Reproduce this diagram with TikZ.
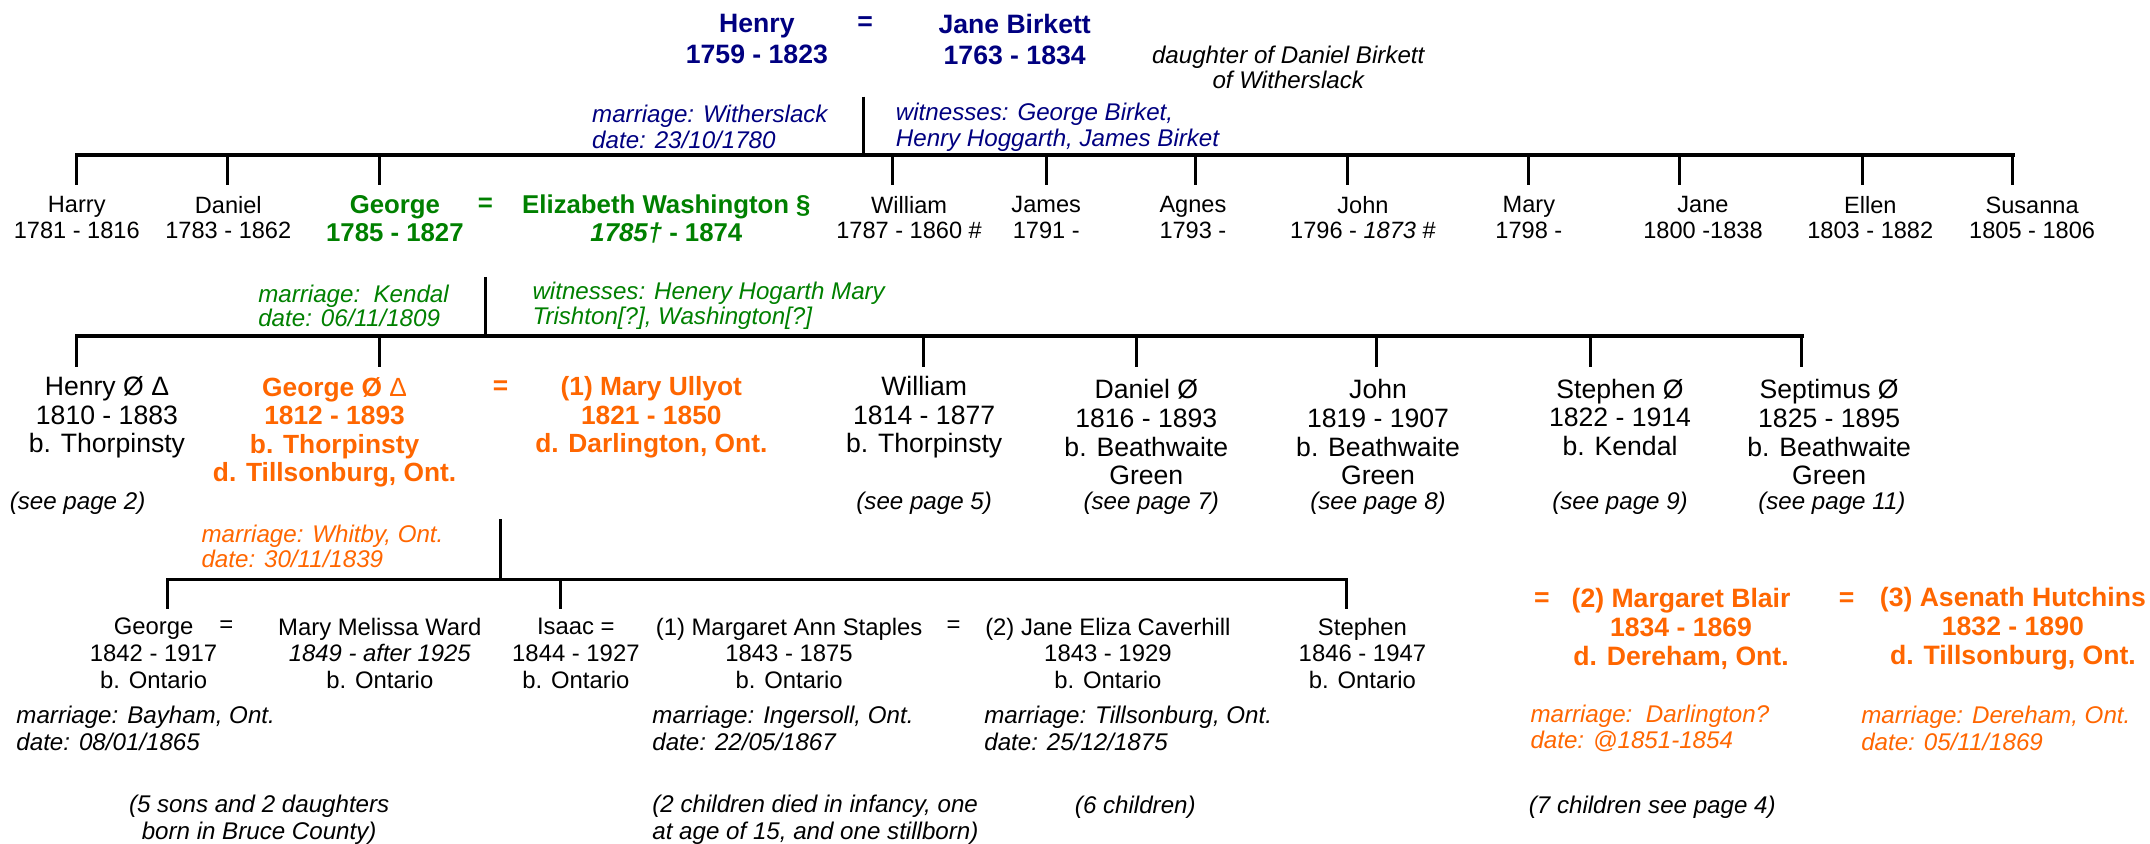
\documentclass[tikz,border=0pt]{standalone}
\usepackage{fontspec}
\setmainfont{Liberation Sans}
\usepackage{tikz}
\usetikzlibrary{calc, positioning}
\definecolor{navy}{RGB}{0,0,128}
\definecolor{leafgreen}{RGB}{0,128,0}
\definecolor{ontorange}{RGB}{255,102,0}

\begin{document}
\begin{tikzpicture}[x=0.5pt, y=-0.5pt,
    every node/.style={inner sep=0pt, align=center},
    bar/.style={line width=1.3pt, line cap=rect},
    stem/.style={line width=1.1pt},
    elders/.style={font=\bfseries\fontsize{9.7}{11.25}\selectfont, text=navy},
    gen1/.style={font=\fontsize{8.6}{9.25}\selectfont},
    heir1/.style={font=\bfseries\fontsize{9.4}{10.25}\selectfont, text=leafgreen},
    gen2/.style={font=\fontsize{9.7}{10.4}\selectfont},
    heir2/.style={font=\bfseries\fontsize{9.6}{10.4}\selectfont, text=ontorange},
    wife2/.style={font=\bfseries\fontsize{9.7}{10.5}\selectfont, text=ontorange},
    gen3/.style={font=\fontsize{8.7}{9.75}\selectfont},
    memo/.style={font=\itshape\fontsize{8.8}{#1}\selectfont, align=left, anchor=west},
    memo/.default=9.75,
    seepage/.style={font=\itshape\fontsize{8.8}{9.75}\selectfont}]
\useasboundingbox (0,0) rectangle (1568,615.5);

% Henry and Jane
\node[elders] (henry0) at (552,28.75) {Henry\\1759 - 1823};
\node[elders] (wed0) at (631,17.5) {=};
\node[elders] (jane0) at (740,28.75) {Jane Birkett\\1763 - 1834};
\node[font=\itshape\fontsize{8.8}{9}\selectfont] (janedad) at (939.5,49) {daughter of Daniel Birkett\\of Witherslack};
\node[memo=9.5, text=navy] (marr0) at (431.5,92.5) {marriage: Witherslack\\date: 23/10/1780};
\node[memo=9.5, text=navy] (witn0) at (653,92.5) {witnesses: George Birket,\\Henry Hoggarth, James Birket};

\coordinate (knot0) at (630,70.5);
\coordinate (bar1w) at (56,113);
\coordinate (bar1e) at (1468,113);
\draw[stem] (knot0) -- (knot0 |- bar1w);
\draw[bar] (bar1w) -- (bar1e);
\foreach \x [count=\i] in {56,166,276.5,651,763,872,983,1115,1225,1358,1468} {
    \coordinate (kid1-\i) at (\x,135);
    \draw[stem] (kid1-\i |- bar1w) -- (kid1-\i);
}

\node[gen1] (harry) at (56,158.75) {Harry\\1781 - 1816};
\node[gen1] (daniel) at (166.5,158.75) {Daniel\\1783 - 1862};
\node[heir1] (george) at (288,159.75) {George\\1785 - 1827};
\node[heir1] (wed1) at (354,149.5) {=};
\node[heir1] (eliza) at (486,159.75) {Elizabeth Washington §\\\textit{1785†} - 1874};
\node[gen1] (william) at (663,158.75) {William\\1787 - 1860 \#};
\node[gen1] (james) at (763,158.75) {James\\1791 -};
\node[gen1] (agnes) at (870,158.75) {Agnes\\1793 -};
\node[gen1] (john) at (994,158.75) {John\\1796 - \textit{1873} \#};
\node[gen1] (mary) at (1115,158.75) {Mary\\1798 -};
\node[gen1] (jane) at (1242,158.75) {Jane\\1800 -1838};
\node[gen1] (ellen) at (1364,158.75) {Ellen\\1803 - 1882};
\node[gen1] (susanna) at (1482,158.75) {Susanna\\1805 - 1806};

% George and Elizabeth
\node[memo=9, text=leafgreen] (marr1) at (188,223) {marriage:\ \ Kendal\\date: 06/11/1809};
\node[memo=9, text=leafgreen] (witn1) at (388,223) {witnesses: Henery Hogarth Mary\\Trishton[?], Washington[?]};

\coordinate (knot1) at (354,202);
\coordinate (bar2w) at (56,245);
\coordinate (bar2e) at (1314,245);
\draw[stem] (knot1) -- (knot1 |- bar2w);
\draw[bar] (bar2w) -- (bar2e);
\foreach \x [count=\i] in {56,277,673.6,829,1004,1160,1314} {
    \coordinate (kid2-\i) at (\x,268);
    \draw[stem] (kid2-\i |- bar2w) -- (kid2-\i);
}

\node[gen2] (henry2) at (78,304.3) {Henry Ø Δ\\1810 - 1883\\b. Thorpinsty};
\node[heir2] (george2) at (244,315.25) {George Ø {\mdseries Δ}\\1812 - 1893\\b. Thorpinsty\\d. Tillsonburg, Ont.};
\node[heir2] (wed2) at (365,283) {=};
\node[heir2] (ullyot) at (475,304.3) {(1) Mary Ullyot\\1821 - 1850\\d. Darlington, Ont.};
\node[gen2] (william2) at (674,304.3) {William\\1814 - 1877\\b. Thorpinsty};
\node[gen2] (daniel2) at (836,315.25) {Daniel Ø\\1816 - 1893\\b. Beathwaite\\Green};
\node[gen2] (john2) at (1005,315.25) {John\\1819 - 1907\\b. Beathwaite\\Green};
\node[gen2] (stephen2) at (1181.5,304.3) {Stephen Ø\\1822 - 1914\\b. Kendal};
\node[gen2] (septimus) at (1334,315.25) {Septimus Ø\\1825 - 1895\\b. Beathwaite\\Green};

\node[seepage] (page2) at (56.6,367) {(see page 2)};
\node[seepage] (page5) at (674,367) {(see page 5)};
\node[seepage] (page7) at (839.6,367) {(see page 7)};
\node[seepage] (page8) at (1005,367) {(see page 8)};
\node[seepage] (page9) at (1181.5,367) {(see page 9)};
\node[seepage] (page11) at (1336,367) {(see page 11)};

% George and Mary Ullyot
\node[memo=9, text=ontorange] (marr2) at (146.6,398.6) {marriage: Whitby, Ont.\\date: 30/11/1839};

\coordinate (knot2) at (365,378.6);
\coordinate (bar3w) at (122.3,422.5);
\coordinate (bar3e) at (982,422.5);
\draw[stem] (knot2) -- (knot2 |- bar3w);
\draw[bar] (bar3w) -- (bar3e);
\foreach \x [count=\i] in {122.3,409,982} {
    \coordinate (kid3-\i) at (\x,444);
    \draw[stem] (kid3-\i |- bar3w) -- (kid3-\i);
}

\node[gen3] (george3) at (112,476.5) {George\\1842 - 1917\\b. Ontario};
\node[gen3] (wed3) at (165,457) {=};
\node[gen3] (ward) at (277,476.5) {Mary Melissa Ward\\\textit{1849 - after 1925}\\b. Ontario};
\node[gen3] (isaac) at (420,476.5) {Isaac =\\1844 - 1927\\b. Ontario};
\node[gen3] (staples) at (575.5,476.5) {(1) Margaret Ann Staples\\1843 - 1875\\b. Ontario};
\node[gen3] (wed4) at (695.5,457) {=};
\node[gen3] (caverhill) at (808,476.5) {(2) Jane Eliza Caverhill\\1843 - 1929\\b. Ontario};
\node[gen3] (stephen3) at (993.6,476.5) {Stephen\\1846 - 1947\\b. Ontario};

\node[memo] (marr3) at (11.6,531.25) {marriage: Bayham, Ont.\\date: 08/01/1865};
\node[memo] (marr4) at (475.4,531.25) {marriage: Ingersoll, Ont.\\date: 22/05/1867};
\node[memo] (marr5) at (717.5,531.25) {marriage: Tillsonburg, Ont.\\date: 25/12/1875};

\node[seepage] (brood1) at (189,598.1) {(5 sons and 2 daughters\\born in Bruce County)};
\node[memo] (brood2) at (475.4,598.1) {(2 children died in infancy, one\\at age of 15, and one stillborn)};
\node[seepage] (brood3) at (828,588.4) {(6 children)};
\node[memo] (brood4) at (1114.6,588.4) {(7 children see page 4)};

% later wives of George
\node[wife2] (wed5) at (1124.5,437.6) {=};
\node[wife2] (blair) at (1226,458.5) {(2) Margaret Blair\\1834 - 1869\\d. Dereham, Ont.};
\node[wife2] (wed6) at (1346.7,437.6) {=};
\node[wife2] (asenath) at (1468,458.5) {(3) Asenath Hutchins\\1832 - 1890\\d. Tillsonburg, Ont.};
\node[memo, text=ontorange] (marr6) at (1115.8,531.25) {marriage:\ \ Darlington?\\date: @1851-1854};
\node[memo, text=ontorange] (marr7) at (1357,531.25) {marriage: Dereham, Ont.\\date: 05/11/1869};
\end{tikzpicture}
\end{document}
